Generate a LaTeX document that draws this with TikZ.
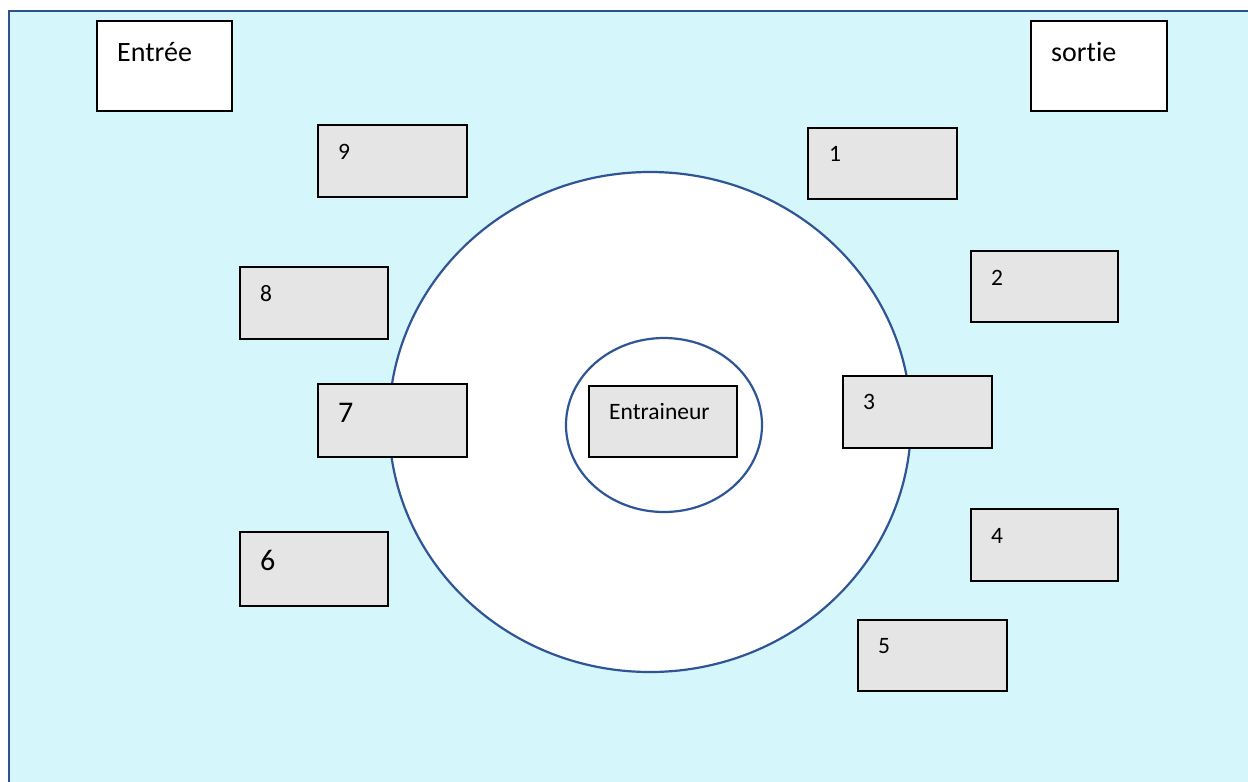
\documentclass[tikz,border=0pt]{standalone}
\usepackage{fontspec}
\setmainfont[Ligatures={NoCommon}]{Carlito}
\definecolor{bgfill}{HTML}{D5F7FC}
\definecolor{bgline}{HTML}{2F528F}
\definecolor{ringline}{HTML}{2F5597}
\definecolor{boxgray}{HTML}{E5E5E5}
\tikzset{
  place/.style={draw=black, line width=1.1pt, fill=boxgray},
  door/.style={draw=black, line width=1.1pt, fill=white},
  ring/.style={draw=ringline, line width=2.2pt, fill=white},
  lbl/.style={anchor=base west, inner sep=0pt, font=\fontsize{23.5}{26}\selectfont},
  biglbl/.style={anchor=base west, inner sep=0pt, font=\fontsize{30}{32}\selectfont},
  doorlbl/.style={anchor=base west, inner sep=0pt, font=\fontsize{28}{30}\selectfont},
}
\begin{document}
\begin{tikzpicture}[x=1pt,y=-1pt]
\useasboundingbox (0,0) rectangle (1248,782);
\begin{scope}
\clip (0,0) rectangle (1248,782);
\fill[bgfill] (8.5,11) rectangle (1260,800);
\draw[bgline, line width=2pt] (8.5,800) -- (8.5,11) -- (1260,11);
\end{scope}
% rings
\draw[ring] (650,422) ellipse [x radius=261, y radius=250];
\draw[ring] (664,425) ellipse [x radius=98, y radius=87];
% doors
\draw[door] (97,21) rectangle (232,111);
\node[doorlbl] (tentree) at (117,61) {Entrée};
\draw[door] (1031,21) rectangle (1167,111);
\node[doorlbl] (tsortie) at (1051,61) {sortie};
% stations
\draw[place] (318,125) rectangle (467,197);
\node[lbl] (n9) at (338,159) {9};
\draw[place] (808,128) rectangle (957,199);
\node[lbl] (n1) at (829,161) {1};
\draw[place] (240,267) rectangle (388,339);
\node[lbl] (n8) at (260,301) {8};
\draw[place] (971,251) rectangle (1118,322);
\node[lbl] (n2) at (991,285) {2};
\draw[place] (318,384) rectangle (467,457);
\node[biglbl] (n7) at (338,422) {7};
\draw[place] (843,376) rectangle (992,448);
\node[lbl] (n3) at (863,409) {3};
\draw[place] (240,532) rectangle (388,606);
\node[biglbl] (n6) at (260,570) {6};
\draw[place] (971,509) rectangle (1118,581);
\node[lbl] (n4) at (991,543) {4};
\draw[place] (858,620) rectangle (1007,691);
\node[lbl] (n5) at (878,653) {5};
% coach
\draw[place] (589,386) rectangle (737,457);
\node[lbl] (coach) at (609,419) {Entraineur};
\end{tikzpicture}
\end{document}
